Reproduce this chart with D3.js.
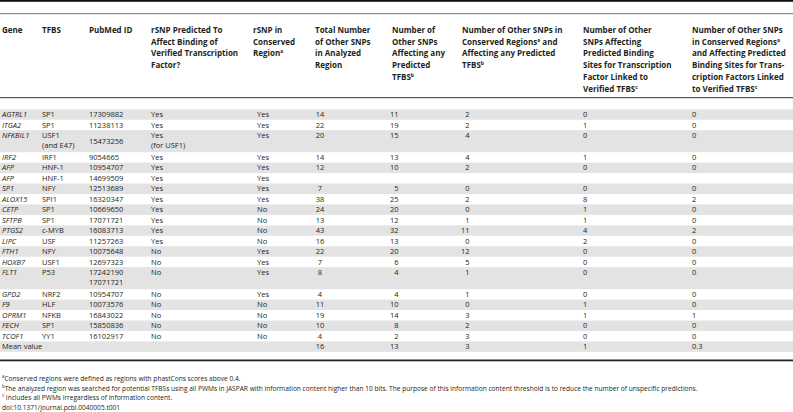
<!DOCTYPE html>
<meta charset="utf-8">
<script src="https://d3js.org/d3.v7.min.js"></script>
<style>
  body { margin: 0; background: #fff; }
  text { font-family: "Open Sans", sans-serif; fill: #231f20; }
</style>
<div id="my_table"></div>

<script>
    // table content
    const headers = [
        ["Gene"],
        ["TFBS"],
        ["PubMed ID"],
        ["rSNP Predicted To", "Affect Binding of", "Verified Transcription", "Factor?"],
        ["rSNP in", "Conserved", "Region^a"],
        ["Total Number", "of Other SNPs", "in Analyzed", "Region"],
        ["Number of", "Other SNPs", "Affecting any", "Predicted", "TFBS^b"],
        ["Number of Other SNPs in", "Conserved Regions^a and", "Affecting any Predicted", "TFBS^b"],
        ["Number of Other", "SNPs Affecting", "Predicted Binding", "Sites for Transcription", "Factor Linked to", "Verified TFBS^c"],
        ["Number of Other SNPs", "in Conserved Regions^a", "and Affecting Predicted", "Binding Sites for Trans-", "cription Factors Linked", "to Verified TFBS^c"]
    ];

    const genes = ["AGTRL1", "ITGA2", "NFKBIL1", "IRF2", "AFP", "AFP", "SP1", "ALOX15", "CETP", "SFTPB",
        "PTGS2", "LIPC", "FTH1", "HOXB7", "FLT1", "GPD2", "F9", "OPRM1", "FECH", "TCOF1"];
    const tfbs = ["SP1", "SP1", "USF1\n(and E47)", "IRF1", "HNF-1", "HNF-1", "NFY", "SPI1", "SP1", "SP1",
        "c-MYB", "USF", "NFY", "USF1", "P53", "NRF2", "HLF", "NFKB", "SP1", "YY1"];
    const pubmed = ["17309882", "11238113", "15473256", "9054665", "10954707", "14699509", "12513689", "16320347",
        "10669650", "17071721", "16083713", "11257263", "10075648", "12697323", "17242190\n17071721",
        "10954707", "10073576", "16843022", "15850836", "16102917"];
    const predicted = ["Yes", "Yes", "Yes\n(for USF1)", "Yes", "Yes", "Yes", "Yes", "Yes", "Yes", "Yes",
        "Yes", "Yes", "No", "No", "No", "No", "No", "No", "No", "No"];
    const conserved = ["Yes", "Yes", "Yes", "Yes", "Yes", "Yes", "Yes", "Yes", "No", "No",
        "No", "No", "Yes", "Yes", "Yes", "Yes", "No", "No", "No", "No"];
    const totalSnps = [14, 22, 20, 14, 12, null, 7, 38, 24, 13, 43, 16, 22, 7, 8, 4, 11, 19, 10, 4];
    const affectingTfbs = [11, 19, 15, 13, 10, null, 5, 25, 20, 12, 32, 13, 20, 6, 4, 4, 10, 14, 8, 2];
    const conservedAffecting = [2, 2, 4, 4, 2, null, 0, 2, 0, 1, 11, 0, 12, 5, 1, 1, 0, 3, 2, 3];
    const linkedTfbs = [0, 1, 0, 1, 0, null, 0, 8, 1, 1, 4, 2, 0, 0, 0, 0, 1, 1, 0, 0];
    const conservedLinked = [0, 0, 0, 0, 0, null, 0, 2, 0, 0, 2, 0, 0, 0, 0, 0, 0, 1, 0, 0];

    const meanLabel = "Mean value";
    const meanValues = [16, 13, 3, 1, 0.3];

    const footnotes = [
        "^aConserved regions were defined as regions with phastCons scores above 0.4.",
        "^bThe analyzed region was searched for potential TFBSs using all PWMs in JASPAR with information content higher than 10 bits. The purpose of this information content threshold is to reduce the number of unspecific predictions.",
        "^c Includes all PWMs irregardless of information content.",
        "doi:10.1371/journal.pcbi.0040005.t001"
    ];

    const W = 793, H = 412;
    const svg = d3.select("#my_table")
        .append("svg")
        .attr("width", W)
        .attr("height", H);

    // column positions and anchors
    const colX = d3.scaleOrdinal()
        .domain(d3.range(10))
        .range([2, 42, 89, 151, 257, 320, 398.5, 469.5, 583, 692]);
    const headX = d3.scaleOrdinal()
        .domain(d3.range(10))
        .range([2, 42, 89, 151, 253, 315, 392, 462, 583, 692]);
    const anchor = ["start", "start", "start", "start", "start", "middle", "end", "end", "start", "start"];

    // rows (data rows + mean row)
    const rows = genes.map((g, i) => [g, tfbs[i], pubmed[i], predicted[i], conserved[i],
        totalSnps[i], affectingTfbs[i], conservedAffecting[i], linkedTfbs[i], conservedLinked[i]]);
    rows.push([meanLabel, "", "", "", "", ...meanValues]);

    const nLines = rows.map(r => d3.max(r, v => v == null ? 1 : String(v).split("\n").length));

    // vertical scale in "line units"
    const lineGap = 1.1;
    let acc = 0;
    const rowTop = nLines.map(n => { const t = acc; acc += n + (n - 1) * lineGap / 10.45; return t; });
    const y = d3.scaleLinear().domain([0, acc]).range([109.3, 109.3 + acc * 10.45]);
    const rowH = nLines.map(n => (n + (n - 1) * lineGap / 10.45) * 10.45);

    // shaded bands
    svg.selectAll("rect.band")
        .data(rows)
        .join("rect")
        .attr("class", "band")
        .attr("x", 0)
        .attr("y", (d, i) => y(rowTop[i]))
        .attr("width", W)
        .attr("height", (d, i) => rowH[i])
        .attr("fill", (d, i) => i % 2 === 0 ? "#e3e3e3" : "none");

    // rules
    svg.append("rect").attr("x", 0).attr("y", 0).attr("width", W).attr("height", 1.8).attr("fill", "#111");
    svg.append("rect").attr("x", 0).attr("y", 13).attr("width", W).attr("height", 1.2).attr("fill", "#8a8a8a");
    svg.append("rect").attr("x", 0).attr("y", 97).attr("width", W).attr("height", 1.2).attr("fill", "#555");
    svg.append("rect").attr("x", 0).attr("y", 359.5).attr("width", W).attr("height", 1.8).attr("fill", "#222");

    // text with ^x superscripts
    function addRich(sel, str, supSize) {
        const parts = str.split(/(\^[a-z])/);
        parts.forEach(p => {
            if (!p) return;
            if (p[0] === "^") {
                sel.append("tspan").attr("font-size", supSize).attr("baseline-shift", "super").text(p.slice(1));
            } else {
                sel.append("tspan").text(p);
            }
        });
    }

    // header
    const headBase = 32.8, headPitch = 11.8;
    headers.forEach((lines, c) => {
        lines.forEach((ln, k) => {
            const t = svg.append("text")
                .attr("x", headX(c))
                .attr("y", headBase + k * headPitch)
                .attr("font-size", 8)
                .attr("font-weight", "bold");
            addRich(t, ln, 5);
        });
    });

    // body cells
    rows.forEach((r, i) => {
        const top = y(rowTop[i]);
        r.forEach((v, c) => {
            if (v == null || v === "") return;
            const lines = String(v).split("\n");
            const isMean = i === rows.length - 1;
            const t = svg.append("text")
                .attr("x", colX(c))
                .attr("font-size", 7.5)
                .attr("text-anchor", anchor[c])
                .attr("font-style", c === 0 && !isMean ? "italic" : "normal");
            // a one-line PubMed cell sits in the middle of a two-line row
            let y0 = top + 7.8;
            if (c === 2 && lines.length === 1 && nLines[i] > 1) y0 = top + rowH[i] / 2 + 2.7;
            lines.forEach((ln, k) => {
                t.append("tspan").attr("x", colX(c)).attr("y", y0 + k * 10).text(ln);
            });
        });
    });

    // footnotes
    footnotes.forEach((f, k) => {
        const t = svg.append("text")
            .attr("x", 2)
            .attr("y", 380.8 + k * 9.7)
            .attr("font-size", 6.6);
        addRich(t, f, 4.4);
    });
</script>
